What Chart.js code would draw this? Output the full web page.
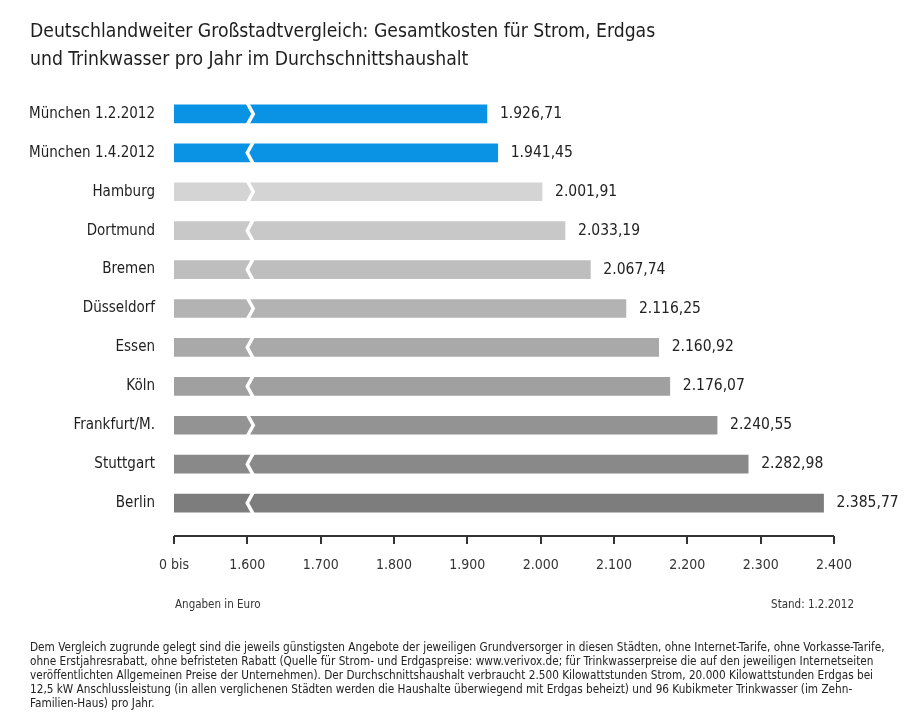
<!DOCTYPE html>
<html>
<head>
<meta charset="utf-8">
<script src="https://cdn.jsdelivr.net/npm/chart.js@4.4.1/dist/chart.umd.min.js"></script>
<style>
  body { margin: 0; background: #fff; font-family: 'Liberation Sans Narrow', 'DejaVu Sans Condensed', sans-serif; color: #222; }
  #wrap { position: relative; width: 908px; height: 724px; overflow: hidden; }
  #chart { position: absolute; left: 0; top: 0; }
  .txt { position: absolute; white-space: nowrap; }
  #title { left: 30px; top: 17px; font-size: 19.2px; line-height: 28px; color: #1e1e1e; }
  #unit { left: 175px; top: 597px; font-size: 11.5px; color: #333; }
  #stand { right: 54px; top: 597px; font-size: 11.5px; color: #333; }
  #note { left: 30px; top: 640px; font-size: 11.7px; line-height: 14px; color: #222; }
</style>
</head>
<body>
<div id="wrap">
  <canvas id="chart" width="908" height="724"></canvas>
  <div class="txt" id="title">Deutschlandweiter Großstadtvergleich: Gesamtkosten für Strom, Erdgas<br>und Trinkwasser pro Jahr im Durchschnittshaushalt</div>
  <div class="txt" id="unit">Angaben in Euro</div>
  <div class="txt" id="stand">Stand: 1.2.2012</div>
  <div class="txt" id="note">Dem Vergleich zugrunde gelegt sind die jeweils günstigsten Angebote der jeweiligen Grundversorger in diesen Städten, ohne Internet-Tarife, ohne Vorkasse-Tarife,<br>ohne Erstjahresrabatt, ohne befristeten Rabatt (Quelle für Strom- und Erdgaspreise: www.verivox.de; für Trinkwasserpreise die auf den jeweiligen Internetseiten<br>veröffentlichten Allgemeinen Preise der Unternehmen). Der Durchschnittshaushalt verbraucht 2.500 Kilowattstunden Strom, 20.000 Kilowattstunden Erdgas bei<br>12,5 kW Anschlussleistung (in allen verglichenen Städten werden die Haushalte überwiegend mit Erdgas beheizt) und 96 Kubikmeter Trinkwasser (im Zehn-<br>Familien-Haus) pro Jahr.</div>
</div>
<script>
const cities = ['München 1.2.2012', 'München 1.4.2012', 'Hamburg', 'Dortmund', 'Bremen', 'Düsseldorf', 'Essen', 'Köln', 'Frankfurt/M.', 'Stuttgart', 'Berlin'];
const costs = [1926.71, 1941.45, 2001.91, 2033.19, 2067.74, 2116.25, 2160.92, 2176.07, 2240.55, 2282.98, 2385.77];
const barColors = ['#0a93e4', '#0a93e4', '#d4d4d4', '#c8c8c8', '#bebebe', '#b3b3b3', '#a9a9a9', '#a0a0a0', '#939393', '#898989', '#7d7d7d'];
// axis runs from 1500 (shown as "0 bis") to 2400, broken at 1600
const axisMin = 1500;
const axisMax = 2400;
const breakAt = 1604;
const breakDir = [1, -1, 1, -1, -1, 1, -1, -1, 1, -1, -1];

const fmt = v => v.toLocaleString('de-DE', { minimumFractionDigits: 2, maximumFractionDigits: 2 });
const FONT = '"Liberation Sans Narrow", "DejaVu Sans Condensed", sans-serif';

const extras = {
    id: 'extras',
    afterDatasetsDraw(c) {
        const ctx = c.ctx;
        const x = c.scales.x;
        const meta = c.getDatasetMeta(0);
        ctx.save();
        // break marks
        ctx.strokeStyle = '#fff';
        ctx.lineWidth = 3.5;
        ctx.lineJoin = 'miter';
        const bx = x.getPixelForValue(breakAt);
        meta.data.forEach((bar, i) => {
            const h = bar.height / 2;
            const d = breakDir[i] * 3;
            ctx.beginPath();
            ctx.moveTo(bx - d, bar.y - h - 2);
            ctx.lineTo(bx + d, bar.y);
            ctx.lineTo(bx - d, bar.y + h + 2);
            ctx.stroke();
        });
        // value labels
        ctx.fillStyle = '#222';
        ctx.font = '15.5px ' + FONT;
        ctx.textBaseline = 'middle';
        ctx.textAlign = 'left';
        meta.data.forEach((bar, i) => {
            ctx.fillText(fmt(costs[i]), bar.x + 13, bar.y);
        });
        // axis line with ticks below the bars
        const ay = 536;
        ctx.strokeStyle = '#333';
        ctx.lineWidth = 2;
        ctx.beginPath();
        ctx.moveTo(x.left, ay);
        ctx.lineTo(x.right, ay);
        ctx.stroke();
        x.ticks.forEach(t => {
            const px = Math.round(x.getPixelForValue(t.value));
            ctx.beginPath();
            ctx.moveTo(px, ay);
            ctx.lineTo(px, ay + 8);
            ctx.stroke();
        });
        ctx.restore();
    }
};

new Chart(document.getElementById('chart'), {
    type: 'bar',
    data: {
        labels: cities,
        datasets: [{
            data: costs,
            base: axisMin,
            backgroundColor: barColors,
            barThickness: 18,
            borderWidth: 0,
        }],
    },
    options: {
        indexAxis: 'y',
        responsive: false,
        animation: false,
        layout: { padding: { left: 0, right: 74, top: 94.5, bottom: 141.5 } },
        plugins: {
            legend: { display: false },
            tooltip: { enabled: false },
        },
        scales: {
            x: {
                type: 'linear',
                min: axisMin,
                max: axisMax,
                afterFit: s => { s.height = 60; },
                grid: { display: false },
                border: { display: false },
                ticks: {
                    stepSize: 100,
                    padding: 26,
                    maxRotation: 0,
                    autoSkip: false,
                    color: '#333',
                    font: { family: FONT, size: 14 },
                    callback: v => v === axisMin ? '0 bis' : v.toLocaleString('de-DE'),
                },
            },
            y: {
                afterFit: s => { s.width = 174; },
                grid: { display: false },
                border: { display: false },
                ticks: {
                    padding: 11,
                    color: '#1e1e1e',
                    font: { family: FONT, size: 15 },
                },
            },
        },
    },
    plugins: [extras],
});
</script>
</body>
</html>
